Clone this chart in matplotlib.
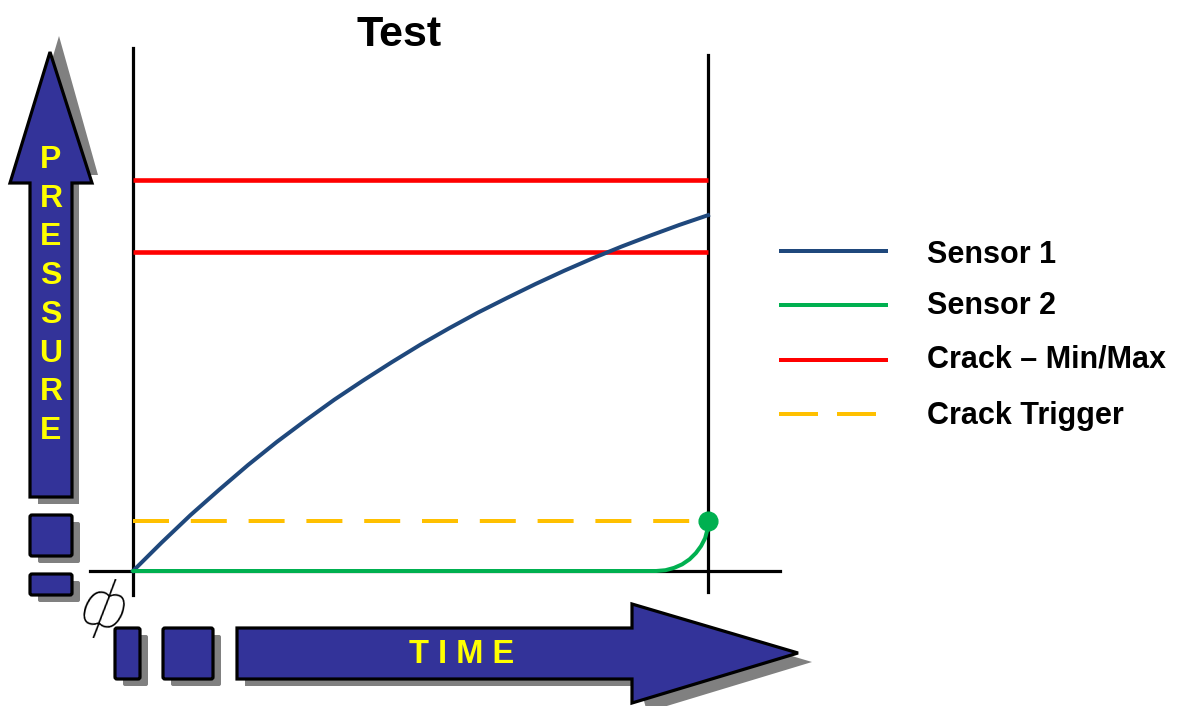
import matplotlib
matplotlib.use("Agg")
import matplotlib.pyplot as plt
from matplotlib.patches import Polygon, FancyBboxPatch
from matplotlib.lines import Line2D

plt.rcParams['font.family'] = ['Liberation Sans', 'DejaVu Sans']

# ---- chart data -------------------------------------------------------
time_sensor1 = [0, 0.5, 1, 1.5, 2, 2.5, 3, 3.5, 4, 4.5, 5,
                5.5, 6, 6.5, 7, 7.5, 8, 8.5, 9, 9.5, 10]
sensor1 = [0, 7.3, 14.3, 20.8, 27.1, 33.0, 38.5, 43.8, 48.7, 53.4, 57.9,
           62.1, 66.1, 69.8, 73.4, 76.8, 80.0, 83.0, 85.8, 88.5, 91.0]

time_sensor2 = [0, 9.1, 9.26, 9.41, 9.55, 9.68, 9.79, 9.88, 9.95, 9.99, 10.0]
sensor2 = [0, 0, 0.2, 0.8, 1.7, 3.0, 4.6, 6.4, 8.4, 10.6, 12.8]

crack_max = 100.0
crack_min = 81.6
crack_trigger = 12.8
test_end = 10.0

series_labels = ["Sensor 1", "Sensor 2", "Crack \u2013 Min/Max", "Crack Trigger"]
title = "Test"
y_word = "PRESSURE"
x_word = "T I M E"

# ---- styles -----------------------------------------------------------
BLUE = "#1F487C"
GREEN = "#00B050"
RED = "#FF0000"
ORANGE = "#FFC000"
FILL = "#333399"
SHADOW = "#808080"
YELLOW = "#FFFF00"

W, H = 1185, 706
fig = plt.figure(figsize=(W / 100, H / 100), dpi=100)

# drawing layer in pixel units for the decorative arrows and legend
bg = fig.add_axes([0, 0, 1, 1], zorder=0)
bg.set_xlim(0, W)
bg.set_ylim(H, 0)
bg.axis("off")

# main plotting axes: time 0..10, pressure 0..100
ax = fig.add_axes([133 / W, (H - 571) / H, 575 / W, 391 / H], zorder=1)
ax.set_xlim(0, test_end)
ax.set_ylim(0, 100)
ax.patch.set_alpha(0)
for s in ax.spines.values():
    s.set_visible(False)
ax.set_xticks([])
ax.set_yticks([])

lw_px = 4 * 0.72
# axis lines
ax.axvline(0, ymin=(571 - 595) / 391, ymax=(571 - 48) / 391, color="black",
           lw=2.3, clip_on=False, zorder=2)
ax.axvline(test_end, ymin=(571 - 592) / 391, ymax=(571 - 55) / 391, color="black",
           lw=2.3, clip_on=False, zorder=2)
ax.axhline(0, xmin=(90 - 133) / 575, xmax=(780 - 133) / 575, color="black",
           lw=2.3, clip_on=False, zorder=2)

# crack limits and trigger
for level in (crack_max, crack_min):
    ax.plot([0, test_end], [level, level], color=RED, lw=lw_px * 1.15,
            solid_capstyle="butt", zorder=3, clip_on=False)
ax.plot([0, test_end], [crack_trigger, crack_trigger], color=ORANGE, lw=lw_px,
        dashes=(9.0, 5.45), dash_capstyle="butt", zorder=3)

# sensors
ax.plot(time_sensor1, sensor1, color=BLUE, lw=lw_px, zorder=4,
        solid_joinstyle="round", clip_on=False)
ax.plot(time_sensor2, sensor2, color=GREEN, lw=lw_px, zorder=5,
        solid_joinstyle="round", solid_capstyle="round", clip_on=False)
ax.plot([time_sensor2[-1]], [sensor2[-1]], "o", color=GREEN, ms=13.5,
        zorder=6, clip_on=False)

# ---- decorative arrows and blocks ------------------------------------
def block(x0, y0, x1, y1):
    bg.add_patch(FancyBboxPatch((x0 + 8, y0 + 7), x1 - x0, y1 - y0,
                                boxstyle="round,pad=0,rounding_size=2",
                                fc=SHADOW, ec="none", zorder=1))
    bg.add_patch(FancyBboxPatch((x0, y0), x1 - x0, y1 - y0,
                                boxstyle="round,pad=0,rounding_size=2",
                                fc=FILL, ec="black", lw=2.3, zorder=2))

# vertical pressure arrow
up_shadow = [(38, 504), (79, 504), (79, 175), (98, 175), (59, 36), (18, 175), (38, 175)]
up_arrow = [(30, 497), (72, 497), (72, 183), (92, 183), (50, 52), (10, 183), (30, 183)]
bg.add_patch(Polygon(up_shadow, closed=True, fc=SHADOW, ec="none", zorder=1))
bg.add_patch(Polygon(up_arrow, closed=True, fc=FILL, ec="black", lw=2.3,
                     joinstyle="miter", zorder=2))
block(30, 515, 72, 556)
block(30, 574, 72, 595)

# horizontal time arrow
right_shadow = [(245, 686), (245, 636), (640, 636), (640, 611), (812, 662),
                (647, 712), (640, 686)]
right_arrow = [(237, 679), (237, 628), (632, 628), (632, 604), (798, 653),
               (632, 703), (632, 679)]
bg.add_patch(Polygon(right_shadow, closed=True, fc=SHADOW, ec="none", zorder=1))
bg.add_patch(Polygon(right_arrow, closed=True, fc=FILL, ec="black", lw=2.3,
                     joinstyle="miter", zorder=2))
block(115, 628, 140, 679)
block(163, 628, 213, 679)

# arrow captions
for i, ch in enumerate(y_word):
    bg.text(51, 168 + 38.7 * i, ch, color=YELLOW, fontsize=23, fontweight="bold",
            ha="center", va="baseline", zorder=3)
bg.text(462, 663, x_word, color=YELLOW, fontsize=23.5, fontweight="bold",
        ha="center", va="baseline", zorder=3)

# origin symbol
bg.text(104, 609, "\u03d5", rotation=-11, fontsize=47,
        family=["Roboto", "DejaVu Sans"], fontweight="light", fontstyle="italic",
        ha="center", va="center", zorder=3)

# title
bg.text(399, 46, title, fontsize=31, fontweight="bold", ha="center",
        va="baseline", zorder=3)

# ---- legend -------------------------------------------------------------
legend_rows = [251, 305, 360, 414]
legend_base = [263, 314, 368, 424]
legend_colors = [BLUE, GREEN, RED, ORANGE]
for i, (label, col) in enumerate(zip(series_labels, legend_colors)):
    y = legend_rows[i]
    if i == 3:
        bg.add_line(Line2D([779, 876], [y, y], color=col, lw=lw_px,
                           dashes=(9.75, 4.75), dash_capstyle="butt", zorder=3))
    else:
        bg.add_line(Line2D([779, 888], [y, y], color=col, lw=lw_px,
                           solid_capstyle="butt", zorder=3))
    bg.text(927, legend_base[i], label, fontsize=22, fontweight="bold",
            ha="left", va="baseline", zorder=3)

fig.savefig("out.png", dpi=100)
